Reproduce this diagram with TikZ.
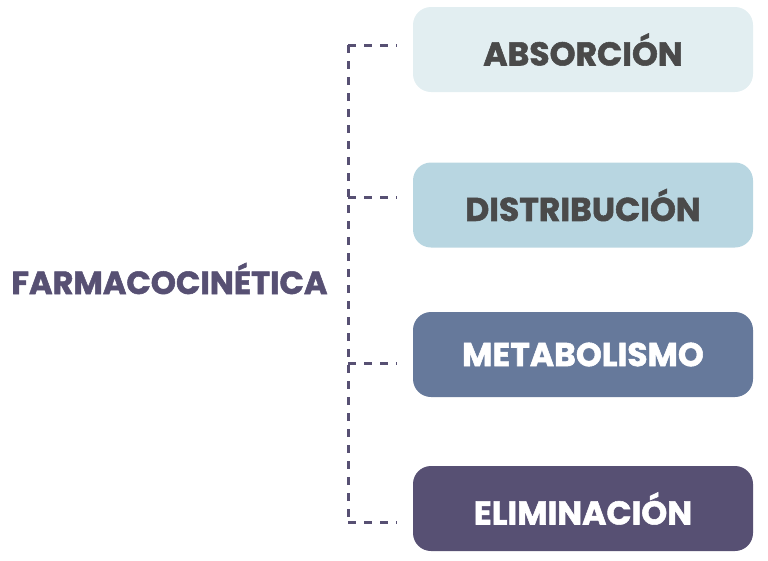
\documentclass[tikz,border=0pt]{standalone}
\usepackage{fontspec}
\setmainfont{Poppins}[BoldFeatures={FakeBold=1.6}]
\definecolor{cA}{HTML}{E2EEF1}
\definecolor{cB}{HTML}{B8D6E1}
\definecolor{cC}{HTML}{66799B}
\definecolor{cD}{HTML}{575073}
\definecolor{txtdark}{HTML}{4A4A4A}
\definecolor{linec}{HTML}{575073}
\tikzset{
  stagebox/.style={rounded corners=18pt, minimum width=340pt, minimum height=85pt,
    inner sep=0pt, font=\fontsize{33}{36}\selectfont\bfseries},
  dashline/.style={draw=linec, line width=3pt, dash pattern=on 8pt off 8pt}
}
\begin{document}
\begin{tikzpicture}[x=1pt,y=1pt]
\useasboundingbox (0,0) rectangle (768,-560);
\node[stagebox, fill=cA, text=txtdark] (b1) at (583,-49.5) {ABSORCIÓN};
\node[stagebox, fill=cB, text=txtdark] (b2) at (583,-205) {DISTRIBUCIÓN};
\node[stagebox, fill=cC, text=white] (b3) at (583,-354.5) {METABOLISMO};
\node[stagebox, fill=cD, text=white] (b4) at (583,-508.5) {ELIMINACIÓN};
\node[anchor=center, text=cD, font=\fontsize{32}{36}\selectfont\bfseries] (fk) at (169.5,-278.5) {FARMACOCINÉTICA};
\coordinate (j1) at (348,-45);
\coordinate (j2) at (348,-197);
\coordinate (j3) at (348,-363);
\coordinate (j4) at (348,-522);
\draw[dashline] (j1) -- (j4);
\draw[dashline, shorten >=16pt] (j1) -- (b1.west |- j1);
\draw[dashline, shorten >=16pt] (j2) -- (b2.west |- j2);
\draw[dashline, shorten >=16pt] (j3) -- (b3.west |- j3);
\draw[dashline, shorten >=16pt] (j4) -- (b4.west |- j4);
\end{tikzpicture}
\end{document}
